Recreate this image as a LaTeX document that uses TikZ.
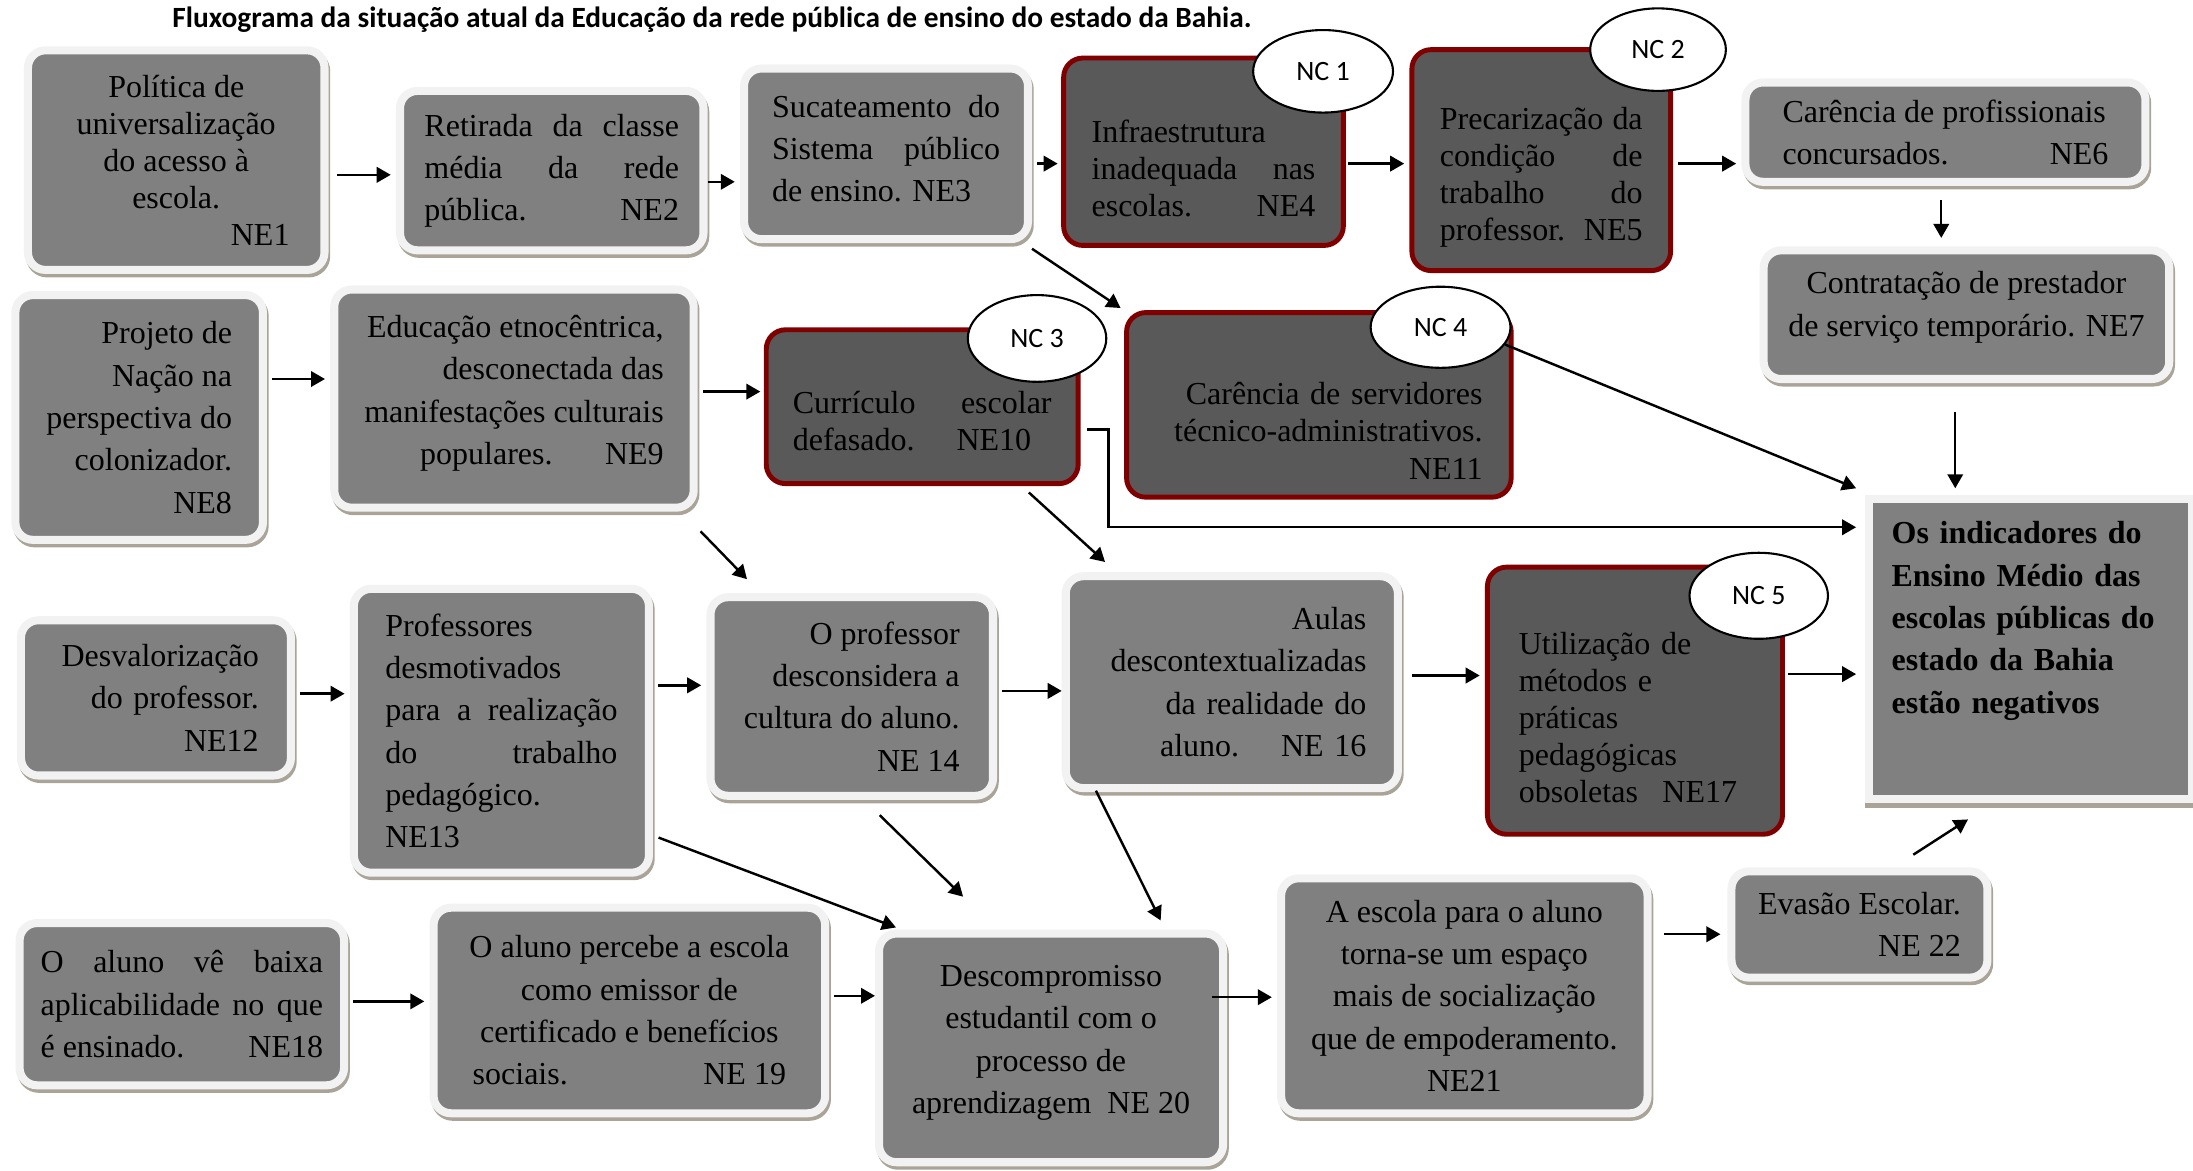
\documentclass[tikz,border=0pt]{standalone}
\usepackage{fontspec}
\setmainfont{Liberation Serif}
\newfontfamily\calib{Carlito}
\usetikzlibrary{arrows.meta,shapes.geometric}
\definecolor{boxgray}{HTML}{808080}
\definecolor{darkbox}{HTML}{595959}
\definecolor{rimc}{HTML}{F2F2F2}
\definecolor{shadc}{HTML}{A9A497}
\definecolor{redb}{HTML}{800000}
\newcommand{\jb}[2]{\hbox to #1{#2}}
\tikzset{
  ne/.style={fill=boxgray, draw=rimc, line width=2.3pt, rounded corners=5pt, inner sep=0pt,
    preaction={draw=shadc, line width=2.3pt, transform canvas={xshift=0.5pt,yshift=-1pt}},
    font=\fontsize{9.15}{12.1}\selectfont},
  nc/.style={fill=darkbox, draw=redb, line width=1.4pt, rounded corners=5.5pt, inner sep=0pt,
    font=\fontsize{9.15}{10.6}\selectfont},
  resbox/.style={fill=boxgray, draw=rimc, line width=2.3pt, inner sep=0pt,
    preaction={draw=shadc, line width=2.3pt, transform canvas={yshift=-1.4pt}},
    font=\bfseries\fontsize{9.15}{12.1}\selectfont},
  ell/.style={ellipse, draw=black, fill=white, line width=0.6pt, inner sep=0pt,
    font=\calib\fontsize{8}{9.6}\selectfont},
  arr/.style={-{Triangle[length=4pt,width=4.4pt]}, line width=0.7pt, shorten >=1.5pt, shorten <=1.5pt},
}
\begin{document}
\begin{tikzpicture}[x=0.4pt,y=-0.4pt]
\useasboundingbox (0,0) rectangle (1568,837);
\node[font=\calib\bfseries\fontsize{8.4}{10}\selectfont] (title) at (509,14)
  {Fluxograma da situação atual da Educação da rede pública de ensino do estado da Bahia.};

% row 1
\node[ne, font=\fontsize{9.15}{10.6}\selectfont, minimum width=84.8pt, minimum height=62.8pt, align=center] (n1) at (126,114.5)
  {Política de\\ universalização\\ do acesso à\\ escola.\\ \jb{64.8pt}{\hfill NE1}};
\node[ne, minimum width=86.8pt, minimum height=45.6pt, align=left] (n2) at (394.5,122)
  {\jb{72.8pt}{Retirada\hfill da\hfill classe}\\ \jb{72.8pt}{média\hfill da\hfill rede}\\ \jb{72.8pt}{pública.\hfill NE2}};
\node[ne, minimum width=81.2pt, minimum height=48.8pt, align=left] (n3) at (633.5,110)
  {\jb{65.2pt}{Sucateamento\hfill do}\\ \jb{65.2pt}{Sistema\hfill público}\\ de ensino. NE3\rule[-3.2pt]{0pt}{1pt}};
\node[nc, minimum width=80pt, minimum height=53.6pt, align=left] (n4) at (860.5,108.5)
  {\rule{0pt}{16pt}Infraestrutura\\ \jb{64pt}{inadequada\hfill nas}\\ \jb{64pt}{escolas.\hfill NE4}};
\node[nc, minimum width=74pt, minimum height=63.2pt, align=left] (n5) at (1102,114.5)
  {\rule{0pt}{16pt}\jb{58pt}{Precarização\hfill da}\\ \jb{58pt}{condição\hfill de}\\ \jb{58pt}{trabalho\hfill do}\\ \jb{58pt}{professor.\hfill NE5}};
\node[ne, minimum width=114.4pt, minimum height=28.4pt, align=left] (n6) at (1391,94.5)
  {Carência de profissionais\\ \jb{93.2pt}{concursados.\hfill NE6}};
\node[ne, font=\fontsize{9.15}{12.4}\selectfont, minimum width=116pt, minimum height=36.8pt, align=center] (n7) at (1406,225)
  {Contratação de prestador\\ de serviço temporário. NE7\rule[-6pt]{0pt}{1pt}};
\node[ell, minimum width=40pt, minimum height=23.6pt] (nc1) at (946,51) {NC 1};
\node[ell, minimum width=38.8pt, minimum height=23.6pt] (nc2) at (1185.5,35.5) {NC 2};

% row 2
\node[ne, minimum width=70.8pt, minimum height=70pt, align=right] (n8) at (99.5,298.5)
  {Projeto de\\ Nação na\\ perspectiva do\\ colonizador.\\ NE8};
\node[ne, minimum width=102.8pt, minimum height=62.4pt, align=right] (n9) at (367.5,285)
  {Educação etnocêntrica,\\ desconectada das\\ manifestações culturais\\ populares.\hspace{15pt}NE9\rule[-5pt]{0pt}{1pt}};
\node[nc, minimum width=89.2pt, minimum height=44pt, align=left] (n10) at (659.4,290.8)
  {\rule{0pt}{14.4pt}\jb{74pt}{Currículo\hfill escolar}\\ defasado.\hspace{12pt}NE10};
\node[nc, minimum width=110pt, minimum height=52.8pt, text width=93.6pt, align=right] (n11) at (943,289.5)
  {\rule{0pt}{21.2pt}Carência de servidores\\ técnico-administrativos.\\ NE11};
\node[ell, minimum width=39.6pt, minimum height=24.8pt] (nc3) at (741.5,242) {NC 3};
\node[ell, minimum width=40pt, minimum height=23.2pt] (nc4) at (1030,234) {NC 4};

% result
\node[resbox, minimum width=92.4pt, minimum height=85.6pt, text width=79.2pt, align=left] (res) at (1451.5,464)
  {Os indicadores do\\ Ensino Médio das\\ escolas públicas do\\ estado da Bahia\\ estão negativos\rule[-18pt]{0pt}{1pt}};

% row 3
\node[ne, minimum width=77.2pt, minimum height=44.4pt, text width=58.8pt, align=right] (n12) at (111.5,499)
  {Desvalorização\\ do professor.\\ NE12};
\node[ne, minimum width=84.4pt, minimum height=81.2pt, align=left] (n13) at (358.5,522.5)
  {Professores\\ desmotivados\\ \jb{66.4pt}{para\hfill a\hfill realização}\\ \jb{66.4pt}{do\hfill trabalho}\\ pedagógico.\\ NE13};
\node[ne, minimum width=80.8pt, minimum height=56.8pt, align=right] (n14) at (609,498)
  {O professor\\ desconsidera a\\ cultura do aluno.\\ NE 14};
\node[ne, minimum width=95pt, minimum height=60.6pt, text width=77pt, align=right] (n16) at (880.75,487.75)
  {Aulas\\ descontextualizadas\\ da realidade do\\ aluno.\hspace{12pt}NE 16};
\node[nc, minimum width=84.4pt, minimum height=76.4pt, text width=66.4pt, align=left] (n17) at (1169,501)
  {\rule{0pt}{16pt}Utilização de\\ métodos e\\ práticas\\ pedagógicas\\ obsoletas\hspace{7pt}NE17};
\node[ell, minimum width=39.6pt, minimum height=24.6pt] (nc5) at (1257.5,426) {NC 5};

% row 4
\node[ne, minimum width=92.8pt, minimum height=46.4pt, align=left] (n18) at (130,718)
  {\jb{80.8pt}{O\hfill aluno\hfill vê\hfill baixa}\\ \jb{80.8pt}{aplicabilidade\hfill no\hfill que}\\ \jb{80.8pt}{é ensinado.\hfill NE18}};
\node[ne, minimum width=112pt, minimum height=58.8pt, align=center] (n19) at (450,722.5)
  {O aluno percebe a escola\\ como emissor de\\ certificado e benefícios\\ \jb{89.6pt}{sociais.\hfill NE 19}};
\node[ne, minimum width=98.4pt, minimum height=65.4pt, align=center] (n20) at (751.5,749.25)
  {Descompromisso\\ estudantil com o\\ processo de\\ aprendizagem\ \ NE 20\rule[-4.8pt]{0pt}{1pt}};
\node[ne, minimum width=104.8pt, minimum height=67.2pt, align=center] (n21) at (1047,712)
  {A escola para o aluno\\ torna-se um espaço\\ mais de socialização\\ que de empoderamento.\\ NE21};
\node[ne, minimum width=73.2pt, minimum height=30.4pt, align=center] (n22) at (1329.5,661)
  {Evasão Escolar.\\ \jb{58pt}{\hfill NE 22}};

% connectors
\draw[arr, shorten <=2.4pt] (n1.east |- 0,125) -- (n2.west |- 0,125);
\draw[arr, shorten <=0pt] (n2.east |- 0,130) -- (n3.west |- 0,130);
\draw[arr, shorten >=1pt] (n3.east |- 0,117) -- (n4.west |- 0,117);
\draw[arr, shorten <=0.6pt] (n4.east |- 0,117) -- (n5.west |- 0,117);
\draw[arr] (n5.east |- 0,117) -- (n6.west |- 0,117);
\draw[arr, shorten <=4pt, shorten >=2.4pt] (n6.south -| 1388,0) -- (n7.north -| 1388,0);
\draw[arr, shorten <=8.4pt, shorten >=2pt] (n7.south -| 1398,0) -- (res.north -| 1398,0);
\draw[arr, shorten <=0pt, shorten >=0pt] ([shift={(0,4)}]n3.south east) -- ([shift={(-2.5,-1.5)}]n11.north west);
\draw[arr, shorten <=0pt, shorten >=0pt] (nc4.-15) -- ([shift={(-6,-5)}]res.north west);
\draw[arr, shorten <=1.9pt, shorten >=2.4pt] (n10.east |- 0,307) -- ++(20,0) |- (res.west |- 0,377);
\draw[arr] (n8.east |- 0,271) -- (n9.west |- 0,271);
\draw[arr, shorten >=1pt] (n9.east |- 0,280) -- (n10.west |- 0,280);
\draw[arr, shorten <=0pt, shorten >=0pt] ([shift={(2,14)}]n9.south east) -- ([shift={(29,-10)}]n14.north west);
\draw[arr, shorten <=0pt, shorten >=0pt] ([shift={(-37,4.6)}]n10.south east) -- ([shift={(31,-7.3)}]n16.north west);
\draw[arr] (n12.east |- 0,496) -- (n13.west |- 0,496);
\draw[arr] (n13.east |- 0,490) -- (n14.west |- 0,490);
\draw[arr, shorten >=0pt] (n14.east |- 0,494) -- (n16.west |- 0,494);
\draw[arr, shorten <=3pt] (n16.east |- 0,483) -- (n17.west |- 0,483);
\draw[arr, shorten <=1pt, shorten >=2.4pt] (n17.east |- 0,482) -- (res.west |- 0,482);
\draw[arr, shorten <=0pt, shorten >=0pt] ([shift={(4,-28)}]n13.south east) -- ([shift={(15,-1.5)}]n20.north west);
\draw[arr, shorten <=0pt, shorten >=0pt] ([shift={(20,11)}]n14.south) -- ([shift={(63,-23.5)}]n20.north west);
\draw[arr, shorten <=0pt, shorten >=0pt] ([shift={(24.5,-1)}]n16.south west) -- ([shift={(-47.5,-6.5)}]n20.north east);
\draw[arr] (n18.east |- 0,716) -- (n19.west |- 0,716);
\draw[arr, shorten >=0pt] (n19.east |- 0,712) -- (n20.west |- 0,712);
\draw[arr, shorten <=-4.2pt] (n20.east |- 0,713) -- (n21.west |- 0,713);
\draw[arr, shorten <=3.6pt, shorten >=2pt] (n21.east |- 0,668) -- (n22.west |- 0,668);
\draw[arr, shorten <=0pt, shorten >=0pt] ([shift={(38.5,-9)}]n22.north) -- ([shift={(74,12)}]res.south west);
\end{tikzpicture}
\end{document}
